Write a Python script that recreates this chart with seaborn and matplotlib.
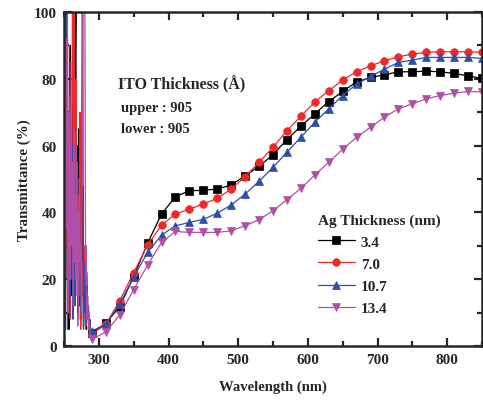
import matplotlib
matplotlib.use("Agg")
import matplotlib.pyplot as plt
from matplotlib.ticker import MultipleLocator
import seaborn as sns
import pandas as pd

# ---------------- data ----------------
wl_noise = [250, 251, 252, 253, 254, 255, 256, 257, 258, 259,
            260, 261, 262, 263, 264, 265, 266, 267, 268, 269,
            270, 271, 272, 273, 274, 275, 276, 277, 278, 279,
            280, 281, 282, 283, 284, 285, 286, 287, 288, 289]
wl = [290, 310, 330, 350, 370, 390, 410, 430, 450, 470,
      490, 510, 530, 550, 570, 590, 610, 630, 650, 670,
      690, 710, 730, 750, 770, 790, 810, 830, 850]

noise_34 = [30, 70, 10, 45, 85, 20, 60, 5, 40, 90,
            15, 55, 25, 100, 100, 35, 80, 100, 30, 60,
            22, 65, 12, 40, 8, 30, 18, 48, 6, 22,
            14, 28, 5, 18, 10, 12, 6, 8, 5, 4]
noise_70 = [20, 55, 5, 70, 30, 90, 12, 45, 75, 8,
            60, 25, 100, 100, 40, 100, 15, 80, 35, 55,
            10, 45, 20, 70, 5, 35, 15, 25, 8, 30,
            12, 20, 6, 15, 9, 10, 5, 6, 4, 3.5]
noise_107 = [100, 10, 100, 40, 100, 5, 70, 30, 55, 15,
             45, 20, 60, 8, 35, 50, 12, 40, 25, 30,
             6, 28, 15, 20, 10, 35, 100, 100, 5, 25,
             10, 18, 7, 22, 8, 12, 6, 7, 5, 4.5]
noise_134 = [15, 50, 25, 92, 35, 92, 10, 70, 45, 20,
             85, 30, 55, 12, 65, 25, 45, 20, 60, 15,
             40, 8, 50, 25, 30, 10, 45, 100, 100, 100,
             100, 20, 30, 8, 15, 5, 10, 4, 3, 2]

t_34 = [4.0, 6.8, 11.8, 20.8, 30.8, 39.5, 44.7, 46.5, 46.6, 47.0,
        48.2, 51.0, 53.8, 57.3, 61.8, 65.8, 69.5, 73.2, 76.2, 79.1,
        80.4, 81.2, 82.1, 82.1, 82.3, 82.1, 81.6, 80.9, 80.1]
t_70 = [3.5, 6.5, 13.6, 22.0, 30.2, 36.2, 39.5, 41.0, 42.5, 44.2,
        47.0, 50.7, 55.0, 59.5, 64.5, 68.8, 73.1, 76.4, 79.6, 82.1,
        83.9, 85.4, 86.6, 87.4, 87.9, 88.1, 88.1, 88.1, 87.9]
t_107 = [4.5, 6.5, 12.6, 20.7, 28.0, 33.2, 36.0, 37.0, 37.9, 39.8,
         42.2, 45.5, 49.3, 53.5, 58.0, 62.5, 67.0, 71.0, 75.0, 78.4,
         80.7, 82.9, 84.9, 85.6, 86.4, 86.4, 86.4, 86.4, 86.1]
t_134 = [2.0, 4.2, 9.3, 16.9, 24.2, 31.0, 34.3, 34.0, 34.0, 34.0,
         34.5, 36.0, 37.8, 40.5, 43.8, 47.2, 51.2, 55.0, 58.9, 62.5,
         65.5, 68.5, 71.0, 72.5, 74.0, 75.0, 75.7, 76.2, 76.1]

labels = ["3.4", "7.0", "10.7", "13.4"]
colors = ["#000000", "#f02828", "#2f4fa6", "#b04fa6"]
markers = ["s", "o", "^", "v"]

# ---------------- figure ----------------
sns.set_style("ticks")
plt.rcParams["font.family"] = ["Liberation Serif", "DejaVu Serif"]
plt.rcParams["font.weight"] = "bold"

fig = plt.figure(figsize=(4.83, 4.02), dpi=100)
ax = fig.add_axes([64 / 483, 1 - 347 / 402, 418 / 483, 334 / 402])

series = [(noise_34, t_34), (noise_70, t_70), (noise_107, t_107), (noise_134, t_134)]
for (nz, tv), lab, c, m in zip(series, labels, colors, markers):
    df = pd.DataFrame({"wl": wl_noise + wl, "T": nz + tv})
    sns.lineplot(data=df, x="wl", y="T", ax=ax, color=c, lw=0.9,
                 marker=m, markersize=6.3 if m in "^v" else 5.5,
                 markeredgecolor=c, markerfacecolor=c, markeredgewidth=0.5,
                 markevery=list(range(len(wl_noise), len(wl_noise) + len(wl))),
                 label=lab, sort=False, estimator=None)

ax.set_xlim(250, 850)
ax.set_ylim(0, 100)
ax.xaxis.set_major_locator(MultipleLocator(100))
ax.xaxis.set_minor_locator(MultipleLocator(50))
ax.yaxis.set_major_locator(MultipleLocator(20))
ax.yaxis.set_minor_locator(MultipleLocator(10))
ax.tick_params(which="both", direction="in", top=True, right=True,
               labelsize=11, width=1.6)
ax.tick_params(which="major", length=6, pad=5)
ax.tick_params(which="minor", length=3.5)
for s in ax.spines.values():
    s.set_linewidth(1.8)
for lbl in ax.get_xticklabels() + ax.get_yticklabels():
    lbl.set_fontweight("bold")

ax.set_xlabel("Wavelength (nm)", fontsize=10.5, fontweight="bold", labelpad=10)
ax.set_ylabel("Transmittance (%)", fontsize=10.8, fontweight="bold", labelpad=2)

fig.text(118 / 483, 1 - 85 / 402, "ITO Thickness (Å)", fontsize=11.5,
         fontweight="bold", va="center", ha="left")
fig.text(121 / 483, 1 - 109 / 402, "upper : 905", fontsize=10.5,
         fontweight="bold", va="center", ha="left")
fig.text(121 / 483, 1 - 130 / 402, "lower : 905", fontsize=10.5,
         fontweight="bold", va="center", ha="left")

leg = ax.legend(title="Ag Thickness (nm)", loc="upper left",
                bbox_to_anchor=(312 / 483, 1 - 208 / 402),
                bbox_transform=fig.transFigure, frameon=False,
                fontsize=11, title_fontsize=11, handlelength=2.4,
                handletextpad=0.4, labelspacing=0.55, borderaxespad=0)
leg._legend_box.align = "left"
leg.get_title().set_fontweight("bold")
for t in leg.get_texts():
    t.set_fontweight("bold")

fig.savefig("out.png", dpi=100)
